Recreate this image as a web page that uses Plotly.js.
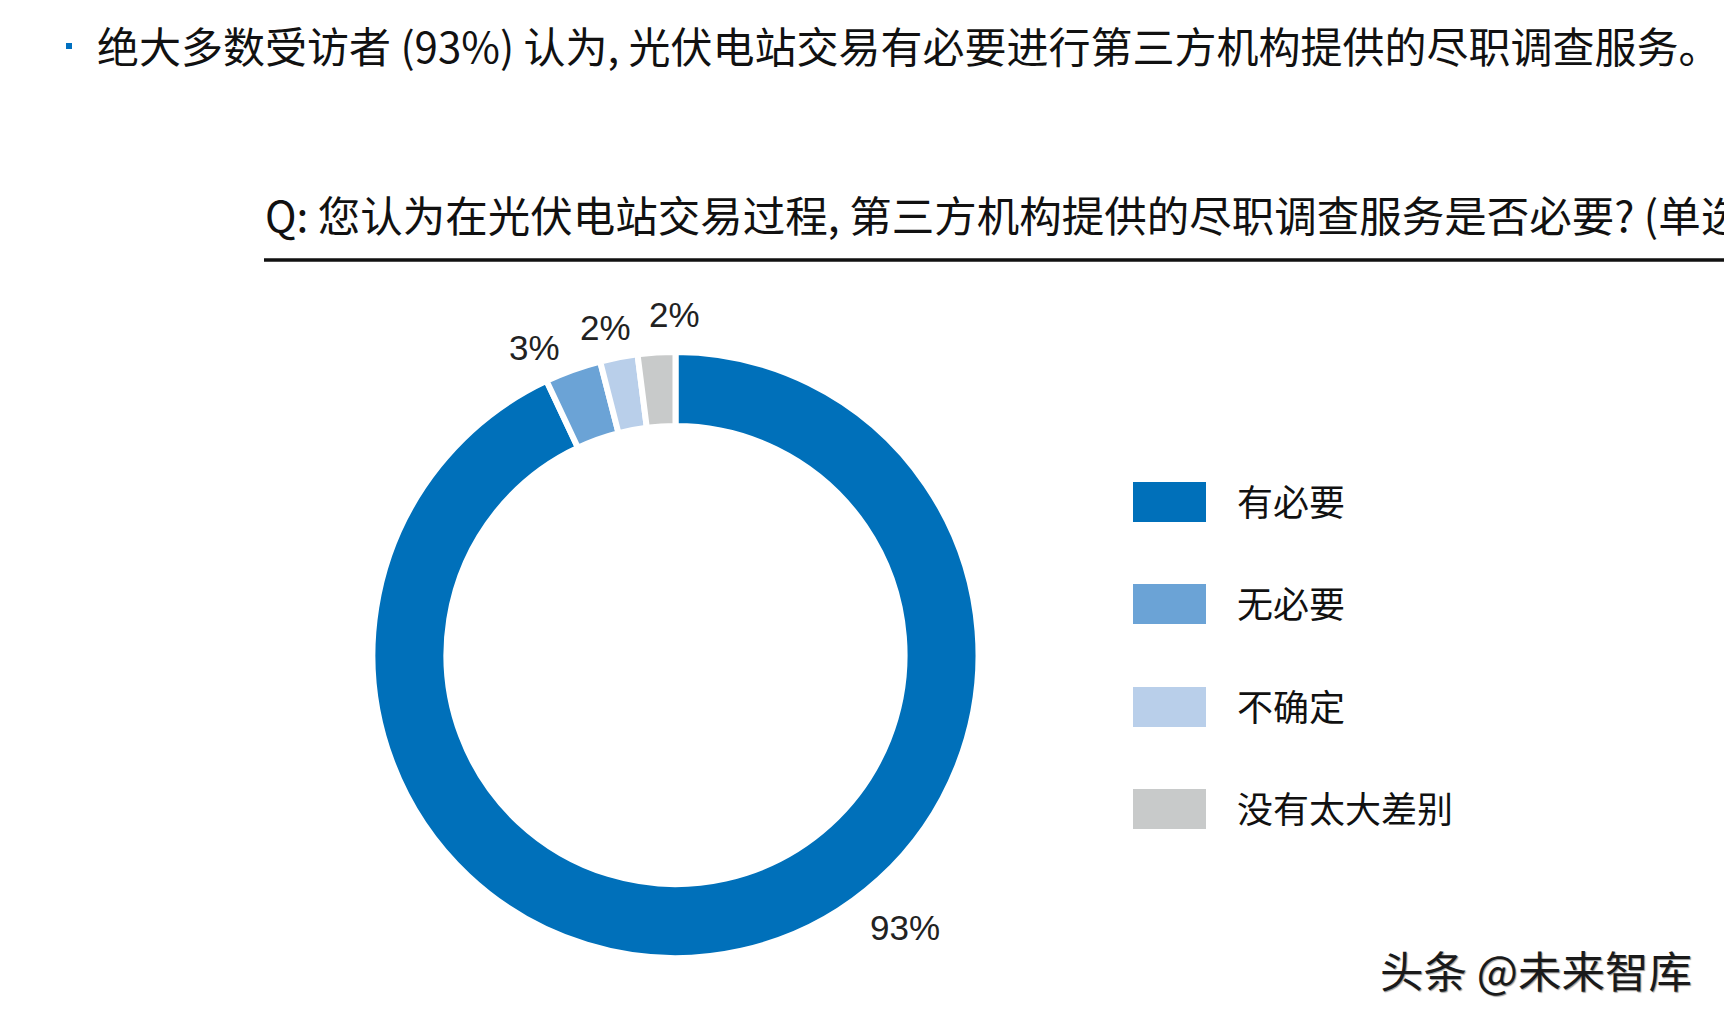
<!DOCTYPE html>
<html>
<head>
<meta charset="utf-8">
<script src="https://cdn.plot.ly/plotly-3.0.1.min.js"></script>
<style>
  html, body { margin: 0; padding: 0; background: #ffffff; }
  #chart { width: 1724px; height: 1020px; }
</style>
</head>
<body>
<div id="chart"></div>
<script>
// ---- data ----
const categories = ['有必要', '无必要', '不确定', '没有太大差别'];
const values = [93, 3, 2, 2];
const colors = ['#0070BA', '#6BA3D6', '#B9CFEA', '#C8CACA'];
const headline = '绝大多数受访者 (93%) 认为, 光伏电站交易有必要进行第三方机构提供的尽职调查服务。';
const question = 'Q: 您认为在光伏电站交易过程, 第三方机构提供的尽职调查服务是否必要? (单选)';
const watermark = '头条 @未来智库';

// ---- layout helpers (pixel -> paper) ----
const W = 1724, H = 1020;
const px = x => x / W;
const py = y => 1 - y / H;

const CJK = 'Noto Sans CJK SC, Noto Sans, sans-serif';
const NUM = 'Liberation Sans, Arial, sans-serif';

// pie geometry (pixels)
const cx = 675.5, cy = 655, R = 303;

const trace = {
  type: 'pie',
  labels: categories,
  values: values,
  sort: false,
  direction: 'clockwise',
  rotation: 0,
  hole: 0.756,
  textinfo: 'none',
  hoverinfo: 'label+percent',
  marker: { colors: colors, line: { color: '#ffffff', width: 6 } },
  domain: { x: [px(cx - R), px(cx + R)], y: [py(cy + R), py(cy - R)] },
  showlegend: false
};

// percent label positions (pixels)
const labelPos = [[905, 927], [534, 347], [605, 328], [674, 314]];
const annotations = [];
values.forEach((v, i) => {
  annotations.push({
    xref: 'paper', yref: 'paper',
    x: px(labelPos[i][0]), y: py(labelPos[i][1]),
    xanchor: 'center', yanchor: 'middle',
    text: v + '%', showarrow: false,
    font: { family: NUM, size: 35, color: '#222222' }
  });
});

// headline & question
annotations.push({
  xref: 'paper', yref: 'paper', x: px(95), y: py(45),
  xanchor: 'left', yanchor: 'middle', text: headline, showarrow: false,
  font: { family: CJK, size: 42, color: '#111111' }
});
annotations.push({
  xref: 'paper', yref: 'paper', x: px(263), y: py(213),
  xanchor: 'left', yanchor: 'middle', text: question, showarrow: false,
  font: { family: CJK, size: 42.5, color: '#111111' }
});

// custom legend
const shapes = [];
const legendRows = [502, 604, 707, 809];
categories.forEach((c, i) => {
  shapes.push({
    type: 'rect', xref: 'paper', yref: 'paper',
    x0: px(1133), x1: px(1206), y0: py(legendRows[i] - 20), y1: py(legendRows[i] + 20),
    fillcolor: colors[i], line: { width: 0 }
  });
  annotations.push({
    xref: 'paper', yref: 'paper', x: px(1235), y: py(legendRows[i] - 2),
    xanchor: 'left', yanchor: 'middle', text: c, showarrow: false,
    font: { family: CJK, size: 36, color: '#111111' }
  });
});

// bullet & rule line
shapes.push({
  type: 'rect', xref: 'paper', yref: 'paper',
  x0: px(66), x1: px(72), y0: py(49), y1: py(43),
  fillcolor: '#0070C0', line: { width: 0 }
});
shapes.push({
  type: 'line', xref: 'paper', yref: 'paper',
  x0: px(264), x1: 1.01, y0: py(260), y1: py(260),
  line: { color: '#111111', width: 3.5 }
});

// watermark
annotations.push({
  xref: 'paper', yref: 'paper', x: px(1378), y: py(969),
  xanchor: 'left', yanchor: 'middle', text: watermark, showarrow: false,
  font: { family: CJK, size: 43.5, color: '#1a1a1a', shadow: '1px 1px 1px #999999' }
});

const layout = {
  width: W, height: H,
  margin: { l: 0, r: 0, t: 0, b: 0, pad: 0 },
  paper_bgcolor: '#ffffff',
  plot_bgcolor: '#ffffff',
  showlegend: false,
  annotations: annotations,
  shapes: shapes
};

Plotly.newPlot('chart', [trace], layout, { displayModeBar: false, staticPlot: true });
</script>
</body>
</html>
